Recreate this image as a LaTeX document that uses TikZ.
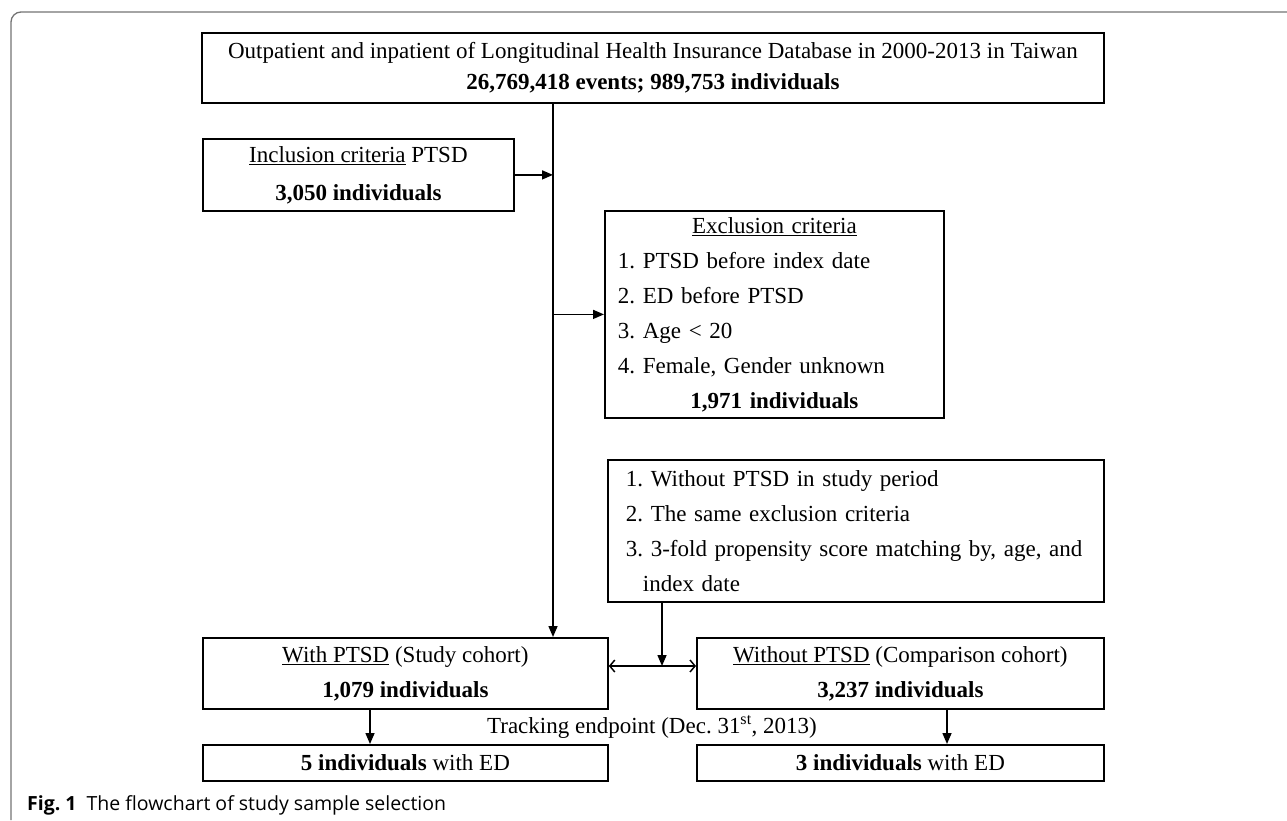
\documentclass[tikz,border=0pt]{standalone}
\usepackage{fontspec}
\setmainfont{Liberation Serif}
\newfontfamily\capfont{Open Sans}
\usetikzlibrary{positioning,arrows.meta,calc}
\frenchspacing
\newcommand{\exitem}[1]{\makebox[313pt][l]{#1}}
\tikzset{
  flowbox/.style={draw=black, line width=1.8pt, anchor=north west, inner sep=0pt,
                  align=center, font=\fontsize{23}{35}\selectfont},
  listbox/.style={flowbox, align=left, inner xsep=18pt},
  arr/.style={-{Triangle[length=11pt,width=9pt]}, line width=1.5pt},
  dblarr/.style={{Straight Barb[length=5pt,width=12pt]}-{Straight Barb[length=5pt,width=12pt]},
                 line width=1.5pt},
  lbl/.style={font=\fontsize{23}{28}\selectfont},
  frame/.style={draw=black!55, line width=1.3pt, rounded corners=10pt},
  caplbl/.style={font=\capfont\fontsize{19.5}{23}\selectfont, anchor=base west, inner sep=0pt}
}
\begin{document}
\begin{tikzpicture}[x=1pt, y=-1pt]
\useasboundingbox (0,0) rectangle (1287,820);
\draw[frame] (11,820) -- (11,12) -- (1287,12);
% boxes
\node (src) [flowbox, minimum width=902pt, minimum height=70pt, font=\fontsize{23}{31}\selectfont] at (201,32)
  {Outpatient and inpatient of Longitudinal Health Insurance Database in 2000-2013 in Taiwan\\
   \textbf{26,769,418 events; 989,753 individuals}};
\node (incl) [flowbox, minimum width=311pt, minimum height=72pt, font=\fontsize{23}{38}\selectfont] at (202,138)
  {\underline{Inclusion criteria} PTSD\\ \textbf{3,050 individuals}};
\node (excl) [flowbox, text width=313pt, minimum width=339pt, minimum height=207pt] at (604,210)
  {\underline{Exclusion criteria}\\
   \exitem{1. PTSD before index date}\\
   \exitem{2. ED before PTSD}\\
   \exitem{3. Age < 20}\\
   \exitem{4. Female, Gender unknown}\\
   \textbf{1,971 individuals}};
\node (ctrl) [listbox, text width=474pt, minimum width=496pt, minimum height=142pt, inner xsep=11pt] at (607,459)
  {\hspace*{7pt}1. Without PTSD in study period\\
   \hspace*{7pt}2. The same exclusion criteria\\
   \hspace*{7pt}3. 3-fold propensity score matching by, age, and\\
   \hspace*{24pt}index date};
\node (study) [flowbox, minimum width=405pt, minimum height=71pt] at (202,637)
  {\underline{With PTSD} (Study cohort)\\ \textbf{1,079 individuals}};
\node (comp) [flowbox, minimum width=407pt, minimum height=71pt] at (696,637)
  {\underline{Without PTSD} (Comparison cohort)\\ \textbf{3,237 individuals}};
\node (res1) [flowbox, minimum width=405pt, minimum height=36pt] at (202,744)
  {\textbf{5 individuals} with ED};
\node (res2) [flowbox, minimum width=407pt, minimum height=36pt] at (696,744)
  {\textbf{3 individuals} with ED};
\node (track) [lbl] at (652,727) {Tracking endpoint (Dec. 31\textsuperscript{st}, 2013)};
\node (cap) [caplbl] at (27,810) {\textbf{Fig. 1}\hspace{10pt}The flowchart of study sample selection};
% connectors
\coordinate (trunk) at (553,0);
\coordinate (link) at (662,666);
\coordinate (lpt) at (370,0);
\coordinate (rpt) at (947,0);
\draw[arr] (src.south -| trunk) -- (study.north -| trunk);
\draw[arr] (incl.east) -- (incl.east -| trunk);
\draw[arr] (excl.west -| trunk) -- (excl.west);
\draw[dblarr] (study.east |- link) -- (comp.west |- link);
\draw[arr] (ctrl.south -| link) -- (link);
\draw[arr] (study.south -| lpt) -- (res1.north -| lpt);
\draw[arr] (comp.south -| rpt) -- (res2.north -| rpt);
\end{tikzpicture}
\end{document}
